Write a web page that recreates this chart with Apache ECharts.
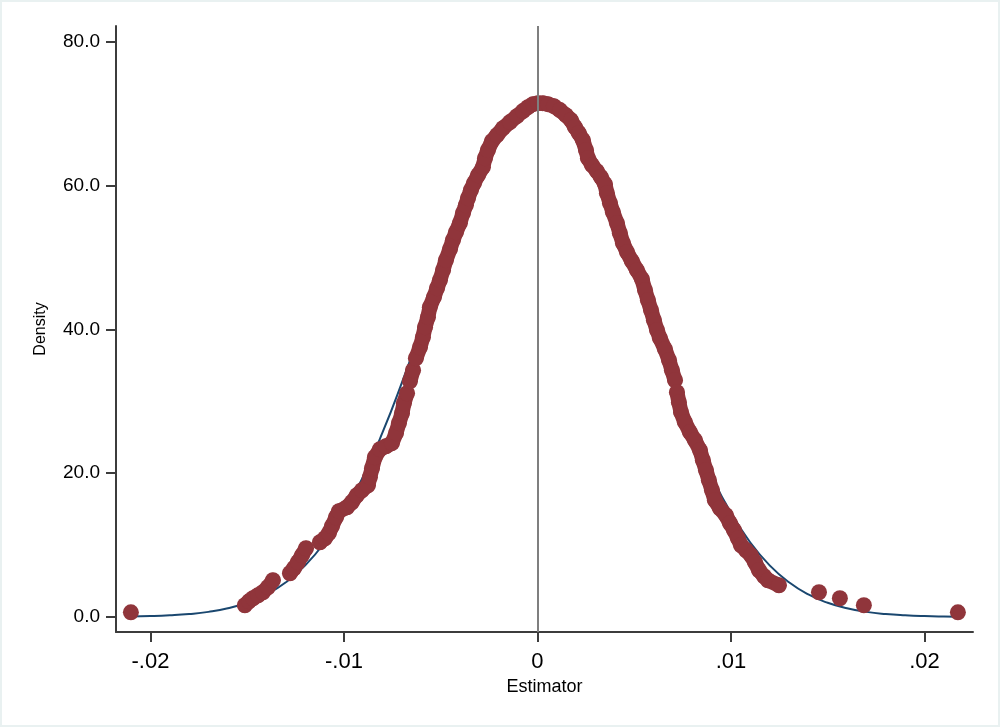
<!DOCTYPE html>
<html>
<head>
<meta charset="utf-8">
<script src="https://cdn.jsdelivr.net/npm/echarts@6/dist/echarts.min.js"></script>
<style>
  html, body { margin: 0; padding: 0; background: #fff; }
  #chart { width: 1000px; height: 727px; background: #fff; box-shadow: inset 0 0 0 2px #e9f1f1; }
</style>
</head>
<body>
<div id="chart"></div>
<script>
// estimator draws (x) and their density (y)
var dotX = [
  -0.02101, -0.01512, -0.01491, -0.01470, -0.01444, -0.01419, -0.01393, -0.01367,
  -0.01279, -0.01258, -0.01238, -0.01217, -0.01196, -0.01124, -0.01098, -0.01078,
  -0.01062, -0.01041, -0.01026, -0.00984, -0.00959, -0.00933, -0.00907, -0.00876,
  -0.00866, -0.00855, -0.00840, -0.00814, -0.00783, -0.00752, -0.00731, -0.00716,
  -0.00700, -0.00690, -0.00674, -0.00659, -0.00643, -0.00628, -0.00607, -0.00592,
  -0.00581, -0.00566, -0.00556, -0.00535, -0.00519, -0.00504, -0.00488, -0.00473,
  -0.00452, -0.00437, -0.00421, -0.00401, -0.00385, -0.00370, -0.00359, -0.00344,
  -0.00328, -0.00307, -0.00282, -0.00271, -0.00256, -0.00235, -0.00209, -0.00178,
  -0.00142, -0.00106, -0.00075, -0.00049, -0.00023, 0.00003,
  0.00028, 0.00054, 0.00085, 0.00116, 0.00147, 0.00173, 0.00194, 0.00214,
  0.00235, 0.00251, 0.00261, 0.00282, 0.00307, 0.00328, 0.00349, 0.00359,
  0.00375, 0.00390, 0.00411, 0.00426, 0.00442, 0.00463, 0.00488, 0.00514,
  0.00540, 0.00556, 0.00571, 0.00587, 0.00602, 0.00618, 0.00633, 0.00659,
  0.00680, 0.00695, 0.00711, 0.00721, 0.00731, 0.00742, 0.00762, 0.00788,
  0.00814, 0.00840, 0.00855, 0.00871, 0.00886, 0.00902, 0.00917, 0.00943,
  0.00974, 0.00995, 0.01016, 0.01036, 0.01052, 0.01078, 0.01103, 0.01124,
  0.01145, 0.01171, 0.01191, 0.01248, 0.01455, 0.01563, 0.01687, 0.02173
];
var dotY = [
  0.65, 1.63, 2.18, 2.60, 3.02, 3.44, 4.13, 5.11,
  6.08, 6.78, 7.61, 8.58, 9.56, 10.39, 10.95, 11.65,
  12.62, 13.87, 14.71, 15.26, 15.96, 16.93, 17.63, 18.32,
  19.44, 20.69, 22.22, 23.33, 23.75, 24.17, 25.56, 26.95,
  28.34, 29.73, 31.12, 32.79, 34.32, 35.99, 37.52, 38.91,
  40.31, 41.70, 43.09, 44.48, 45.73, 46.85, 48.24, 49.63,
  51.16, 52.41, 53.52, 54.78, 56.17, 57.28, 58.25, 59.37,
  60.34, 61.45, 62.57, 63.82, 64.93, 66.18, 67.02, 67.99,
  68.83, 69.66, 70.36, 70.91, 71.33, 71.47,
  71.47, 71.33, 71.05, 70.50, 69.80, 69.11, 68.13, 67.30,
  66.32, 64.93, 63.82, 62.85, 62.01, 61.18, 60.20, 58.95,
  57.56, 56.31, 54.78, 53.38, 51.99, 50.74, 49.49, 48.24,
  46.98, 45.45, 44.06, 42.67, 41.28, 39.89, 38.78, 37.25,
  35.71, 34.32, 32.93, 31.26, 29.87, 28.48, 27.09, 25.70,
  24.58, 23.19, 21.80, 20.41, 19.02, 17.63, 16.24, 15.12,
  14.15, 13.04, 12.06, 10.95, 9.98, 9.28, 8.58, 7.61,
  6.50, 5.66, 5.11, 4.41, 3.44, 2.60, 1.63, 0.65
];

// normal reference curve
var curveX = [
  -0.021, -0.020, -0.019, -0.018, -0.017, -0.016, -0.015, -0.014, -0.013, -0.012,
  -0.011, -0.010, -0.009, -0.008, -0.007, -0.006, -0.005, -0.004, -0.003, -0.002,
  -0.001, 0, 0.001, 0.002, 0.003, 0.004, 0.005, 0.006, 0.007, 0.008,
  0.009, 0.010, 0.011, 0.012, 0.013, 0.014, 0.015, 0.016, 0.017, 0.018,
  0.019, 0.020, 0.021, 0.0217
];
var curveY = [
  0.06, 0.12, 0.23, 0.41, 0.71, 1.20, 1.97, 3.13, 4.82, 7.18,
  10.36, 14.48, 19.60, 25.70, 32.64, 40.16, 47.86, 55.24, 61.77, 66.89,
  70.17, 71.30, 70.17, 66.89, 61.77, 55.24, 47.86, 40.16, 32.64, 25.70,
  19.60, 14.48, 10.36, 7.18, 4.82, 3.13, 1.97, 1.20, 0.71, 0.41,
  0.23, 0.12, 0.06, 0.04
];

var xTicks = [-0.02, -0.01, 0, 0.01, 0.02];
var yTicks = [0, 20, 40, 60, 80];

function fmtX(v) {
  if (Math.abs(v) < 1e-9) return "0";
  var s = Math.abs(v).toFixed(2).replace(/^0/, "");
  return (v < 0 ? "-" : "") + s;
}

var dots = dotX.map(function (x, i) { return [x, dotY[i]]; });

// overlapping markers form a solid band; join neighbouring dots so the band has no notches
var band = [];
dots.forEach(function (p, i) {
  if (i > 0) {
    var q = dots[i - 1];
    if (Math.abs(p[0] - q[0]) > 0.0006 || Math.abs(p[1] - q[1]) > 1.6) band.push([null, null]);
  }
  band.push(p);
});

var chart = echarts.init(document.getElementById("chart"));
var option = {
  backgroundColor: "transparent",
  animation: false,
  grid: { left: 116, right: 27, top: 26, bottom: 95 },
  xAxis: {
    type: "value",
    min: -0.02178,
    max: 0.02251,
    name: "Estimator",
    nameLocation: "middle",
    nameGap: 44,
    nameTextStyle: { color: "#000", fontSize: 18, fontFamily: "Liberation Sans, Arial" },
    axisLine: { onZero: false, lineStyle: { color: "#3c3c3c", width: 2 } },
    axisTick: { show: true, length: 10, customValues: xTicks, lineStyle: { color: "#3c3c3c", width: 2 } },
    axisLabel: {
      customValues: xTicks,
      margin: 19,
      color: "#000",
      fontSize: 22,
      fontFamily: "Liberation Sans, Arial",
      formatter: fmtX
    },
    splitLine: { show: false }
  },
  yAxis: {
    type: "value",
    min: -2.09,
    max: 82.2,
    name: "Density",
    nameLocation: "middle",
    nameGap: 67,
    nameRotate: 90,
    nameTextStyle: { color: "#000", fontSize: 16, fontFamily: "Liberation Sans, Arial" },
    axisLine: { show: true, onZero: false, lineStyle: { color: "#3c3c3c", width: 2 } },
    axisTick: { show: true, length: 10, customValues: yTicks, lineStyle: { color: "#3c3c3c", width: 2 } },
    axisLabel: {
      customValues: yTicks,
      margin: 16,
      color: "#000",
      fontSize: 19,
      fontFamily: "Liberation Sans, Arial",
      formatter: function (v) { return v.toFixed(1); }
    },
    splitLine: { show: false }
  },
  series: [
    {
      type: "line",
      data: curveX.map(function (x, i) { return [x, curveY[i]]; }),
      smooth: true,
      symbol: "none",
      lineStyle: { color: "#1a476f", width: 2 },
      z: 2
    },
    {
      type: "line",
      data: band,
      symbol: "none",
      connectNulls: false,
      lineStyle: { color: "#90353b", width: 15, cap: "round", join: "round" },
      silent: true,
      z: 3
    },
    {
      type: "scatter",
      data: dots,
      symbol: "circle",
      symbolSize: 16,
      itemStyle: { color: "#90353b", opacity: 1 },
      z: 4
    },
    {
      type: "line",
      data: [],
      z: 5,
      markLine: {
        silent: true,
        symbol: "none",
        label: { show: false },
        lineStyle: { color: "#7f7f7f", width: 2, type: "solid" },
        data: [{ xAxis: 0 }],
        z: 5
      }
    }
  ]
};
chart.setOption(option);
</script>
</body>
</html>
